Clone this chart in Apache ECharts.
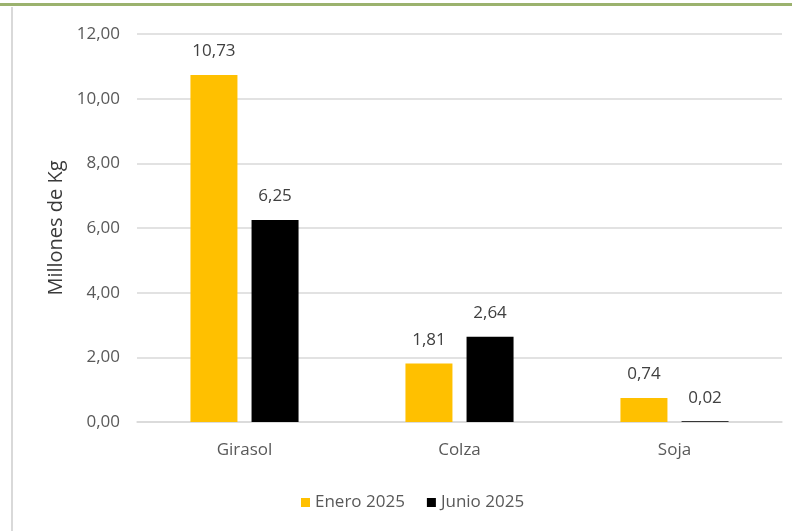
<!DOCTYPE html>
<html>
<head>
<meta charset="utf-8">
<script src="https://cdn.jsdelivr.net/npm/echarts@6/dist/echarts.min.js"></script>
<style>
  html, body { margin: 0; padding: 0; background: #fff; }
  #frame { position: absolute; left: 0; top: 0; width: 792px; height: 531px; }
  #topline { position: absolute; left: 0; top: 3px; width: 792px; height: 3px; background: #9BB26E; }
  #leftline { position: absolute; left: 11px; top: 7px; width: 2px; height: 524px; background: #D9D9D9; }
  #chart { position: absolute; left: 0; top: 0; width: 792px; height: 531px; }
</style>
</head>
<body>
<div id="frame">
  <div id="chart"></div>
  <div id="topline"></div>
  <div id="leftline"></div>
</div>
<script>
// datos
const categorias = ['Girasol', 'Colza', 'Soja'];
const enero2025 = [10.73, 1.81, 0.74];
const junio2025 = [6.25, 2.64, 0.02];
const ticksY = [0, 2, 4, 6, 8, 10, 12];

const fmt = v => v.toFixed(2).replace('.', ',');
const fuente = 'Open Sans';

const chart = echarts.init(document.getElementById('chart'));
const labelCfg = {
    show: true,
    position: 'top',
    distance: 15,
    color: '#404040',
    fontFamily: fuente,
    fontSize: 17,
    formatter: p => fmt(p.value)
};
chart.setOption({
    animation: false,
    grid: { left: 137, right: 10, top: 34, bottom: 109 },
    legend: {
        top: 489,
        left: 296,
        itemWidth: 9,
        itemHeight: 9,
        itemGap: 22,
        icon: 'rect',
        textStyle: { color: '#595959', fontFamily: fuente, fontSize: 17 },
        data: ['Enero 2025', 'Junio 2025']
    },
    xAxis: {
        type: 'category',
        data: categorias,
        axisTick: { show: false },
        axisLine: { lineStyle: { color: '#D9D9D9', width: 1.5 } },
        axisLabel: { color: '#595959', fontFamily: fuente, fontSize: 17, margin: 20 }
    },
    yAxis: {
        type: 'value',
        min: ticksY[0],
        max: ticksY[ticksY.length - 1],
        interval: 2,
        name: 'Millones de Kg',
        nameLocation: 'middle',
        nameGap: 68,
        nameTextStyle: { color: '#3A3A3A', fontFamily: fuente, fontSize: 20 },
        axisLabel: { color: '#595959', fontFamily: fuente, fontSize: 17, margin: 17, formatter: v => fmt(v) },
        splitLine: { lineStyle: { color: '#D9D9D9', width: 1.5 } }
    },
    series: [
        {
            name: 'Enero 2025',
            type: 'bar',
            data: enero2025,
            barWidth: 47,
            barGap: '30%',
            itemStyle: { color: '#FFC000' },
            label: labelCfg
        },
        {
            name: 'Junio 2025',
            type: 'bar',
            data: junio2025,
            barWidth: 47,
            itemStyle: { color: '#000000' },
            label: labelCfg
        }
    ]
});
</script>
</body>
</html>
